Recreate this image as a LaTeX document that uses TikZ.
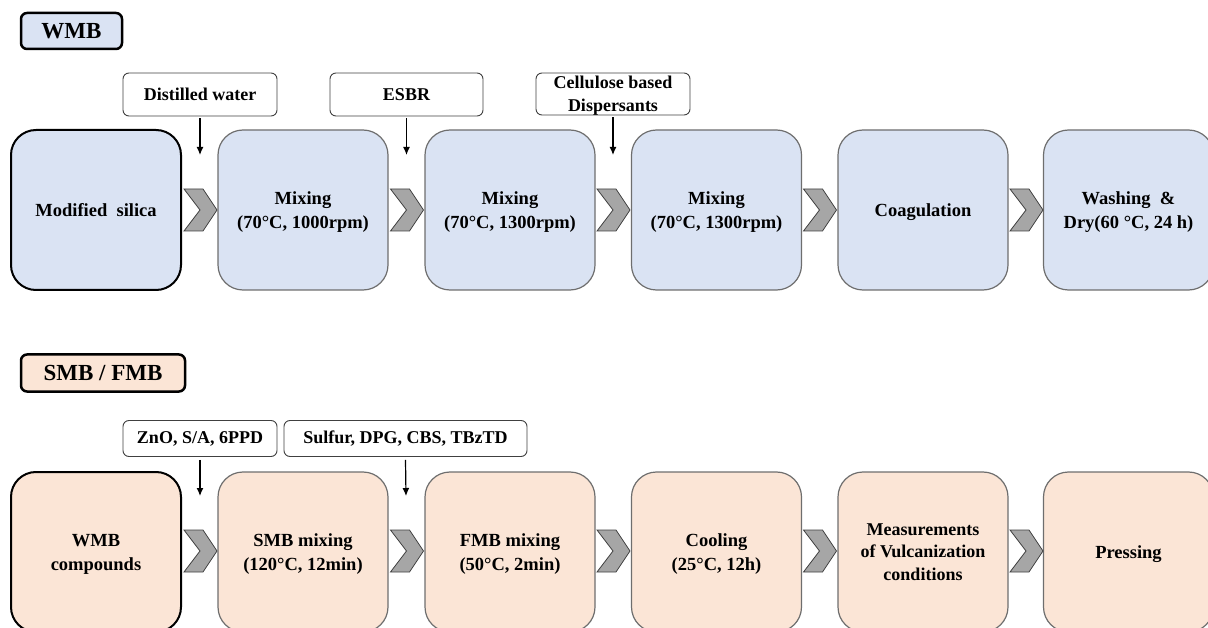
\documentclass[tikz,border=0pt]{standalone}
\usepackage{fontspec}
\setmainfont{Liberation Serif}
\usetikzlibrary{arrows.meta}
\definecolor{bluefill}{HTML}{DAE3F3}
\definecolor{peachfill}{HTML}{FBE5D6}
\definecolor{boxedge}{HTML}{6E6E6E}
\definecolor{chevfill}{HTML}{A6A6A6}
\definecolor{chevedge}{HTML}{404040}
\tikzset{
  mainbox/.style={draw=boxedge, line width=1.2pt, rounded corners=25pt,
    minimum width=170pt, minimum height=160pt, align=center,
    font=\fontsize{18.5}{24}\selectfont\bfseries, inner sep=0pt, text depth=0pt},
  firstbox/.style={mainbox, draw=black, line width=2pt},
  labelbox/.style={draw=chevedge, line width=0.9pt, fill=white, rounded corners=6pt,
    align=center, font=\fontsize{18}{22}\selectfont\bfseries, inner sep=0pt},
  header/.style={draw=black, line width=2.5pt, rounded corners=6pt,
    font=\fontsize{23}{26}\selectfont\bfseries, inner sep=0pt},
  feed/.style={-{Latex[length=8pt,width=7pt]}, line width=1.2pt},
  chev/.pic={\draw[fill=chevfill, draw=chevedge, line width=0.8pt]
     (-16.5,-21) -- (2.5,-21) -- (16.5,0) -- (2.5,21) -- (-16.5,21) -- (-0.5,0) -- cycle;}
}
\begin{document}
\begin{tikzpicture}[x=1pt,y=-1pt]
\useasboundingbox (0,0) rectangle (1208,628);
\clip (0,0) rectangle (1208,628);
% headers
\node[header, fill=bluefill, minimum width=101pt, minimum height=36pt] (h1) at (71.5,31) {WMB};
\node[header, fill=peachfill, minimum width=164pt, minimum height=37pt] (h2) at (103,373) {SMB / FMB};
% top row boxes
\node[firstbox, fill=bluefill] (t1) at (96,210) {Modified\ \ silica};
\node[mainbox, fill=bluefill] (t2) at (303,210) {Mixing\\(70°C, 1000rpm)};
\node[mainbox, fill=bluefill] (t3) at (510,210) {Mixing\\(70°C, 1300rpm)};
\node[mainbox, fill=bluefill] (t4) at (716.5,210) {Mixing\\(70°C, 1300rpm)};
\node[mainbox, fill=bluefill] (t5) at (923,210) {Coagulation};
\node[mainbox, fill=bluefill] (t6) at (1128.5,210) {Washing\ \ \&\\Dry(60 °C, 24 h)};
% top chevrons
\foreach \x in {200.5,407,613.5,820,1026.5} \pic at (\x,210) {chev};
% top labels
\node[labelbox, minimum width=154pt, minimum height=43pt] (l1) at (200,94.5) {Distilled water};
\node[labelbox, minimum width=153pt, minimum height=43pt] (l2) at (406.5,94.5) {ESBR};
\node[labelbox, minimum width=154pt, minimum height=42pt, text depth=0pt, font=\fontsize{18}{23}\selectfont\bfseries] (l3) at (613,94) {Cellulose based\\Dispersants};
\coordinate (a1) at (200,155);
\coordinate (a2) at (406.5,155);
\coordinate (a3) at (613,155);
\draw[feed] ([yshift=-2pt]l1.south) -- (a1);
\draw[feed] ([yshift=-2pt]l2.south) -- (a2);
\draw[feed] ([yshift=-2pt]l3.south) -- (a3);
% bottom row boxes
\node[firstbox, fill=peachfill] (b1) at (96,552) {WMB\\compounds};
\node[mainbox, fill=peachfill] (b2) at (303,552) {SMB mixing\\(120°C, 12min)};
\node[mainbox, fill=peachfill] (b3) at (510,552) {FMB mixing\\(50°C, 2min)};
\node[mainbox, fill=peachfill] (b4) at (716.5,552) {Cooling\\(25°C, 12h)};
\node[mainbox, fill=peachfill, font=\fontsize{18}{22.5}\selectfont\bfseries] (b5) at (923,552) {Measurements\\of Vulcanization\\conditions};
\node[mainbox, fill=peachfill] (b6) at (1128.5,552) {Pressing};
\foreach \x in {200.5,407,613.5,820,1026.5} \pic at (\x,551) {chev};
% bottom labels
\node[labelbox, minimum width=154pt, minimum height=36pt] (m1) at (200,438.5) {ZnO, S/A, 6PPD};
\node[labelbox, minimum width=243pt, minimum height=36pt] (m2) at (405.5,438.5) {Sulfur, DPG, CBS, TBzTD};
\coordinate (c1) at (200,496);
\coordinate (c2) at (406,496);
\draw[feed] ([yshift=-3pt]m1.south) -- (c1);
\draw[feed] ([yshift=-3pt]m2.south) -- (c2);
\end{tikzpicture}
\end{document}
